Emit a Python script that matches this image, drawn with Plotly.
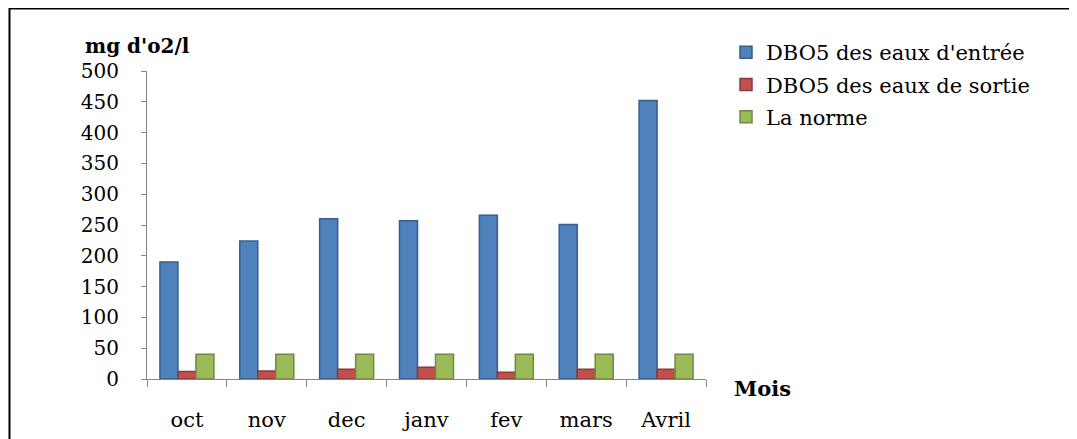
import plotly.graph_objects as go

months = ["oct", "nov", "dec", "janv", "fev", "mars", "Avril"]
dbo5_entree = [190, 224, 260, 257, 266, 251, 452]
dbo5_sortie = [12, 13, 16, 19, 11, 16, 16]
norme = [40, 40, 40, 40, 40, 40, 40]
y_ticks = [0, 50, 100, 150, 200, 250, 300, 350, 400, 450, 500]

FONT = "DejaVu Serif"

fig = go.Figure()
fig.add_trace(go.Bar(x=months, y=dbo5_entree, name="DBO5 des eaux d'entrée",
                     marker=dict(color="#4F81BD", line=dict(color="#385D8A", width=1.5)),
                     legendgroup="a"))
fig.add_trace(go.Bar(x=months, y=dbo5_sortie, name="DBO5 des eaux de sortie",
                     marker=dict(color="#C0504D", line=dict(color="#8C3836", width=1.5)),
                     legendgroup="b"))
fig.add_trace(go.Bar(x=months, y=norme, name="La norme",
                     marker=dict(color="#9BBB59", line=dict(color="#71893F", width=1.5)),
                     legendgroup="c"))

OFF = 8  # page body margin
W, H = 1077 - OFF, 439 - OFF
L, R, T, B = 147 - OFF, 1077 - 706, 71 - OFF, 439 - 379
pw, ph = W - L - R, H - T - B

def px(x):
    return (x - OFF - L) / pw

def py(y):
    return (H - B - (y - OFF)) / ph

fig.update_layout(
    width=W, height=H,
    margin=dict(l=L, r=R, t=T, b=B, autoexpand=False),
    paper_bgcolor="white", plot_bgcolor="white",
    font=dict(family=FONT, size=20, color="black"),
    barmode="group", bargap=0.324, bargroupgap=0,
    showlegend=True,
    legend=dict(x=px(726), y=py(32), xanchor="left", yanchor="top",
                font=dict(family=FONT, size=21, color="black"),
                tracegroupgap=2, itemwidth=30, bgcolor="rgba(0,0,0,0)"),
    xaxis=dict(type="category", showline=True, linecolor="#868686", linewidth=1,
               ticks="outside", tickson="boundaries", ticklen=7, tickcolor="#868686",
               showgrid=False, ticklabelstandoff=22, automargin=False,
               tickfont=dict(family=FONT, size=21, color="black")),
    yaxis=dict(range=[0, 500], tickvals=y_ticks, showline=True, linecolor="#868686",
               linewidth=1, ticks="outside", ticklen=5, tickcolor="#868686",
               showgrid=False, zeroline=False, ticklabelstandoff=18, automargin=False,
               tickfont=dict(family=FONT, size=20, color="black")),
    shapes=[dict(type="rect", xref="paper", yref="paper",
                 x0=px(9.5), x1=px(1200), y0=py(8.5), y1=py(600),
                 line=dict(color="black", width=2), fillcolor="rgba(0,0,0,0)", layer="below")],
    annotations=[
        dict(text="<b>mg d'o2/l</b>", xref="paper", yref="paper", x=px(83), y=py(46),
             xanchor="left", yanchor="middle", showarrow=False,
             font=dict(family=FONT, size=20, color="black")),
        dict(text="<b>Mois</b>", xref="paper", yref="paper", x=px(732), y=py(388),
             xanchor="left", yanchor="middle", showarrow=False,
             font=dict(family=FONT, size=21, color="black")),
    ],
)

fig.write_html("out.html")
